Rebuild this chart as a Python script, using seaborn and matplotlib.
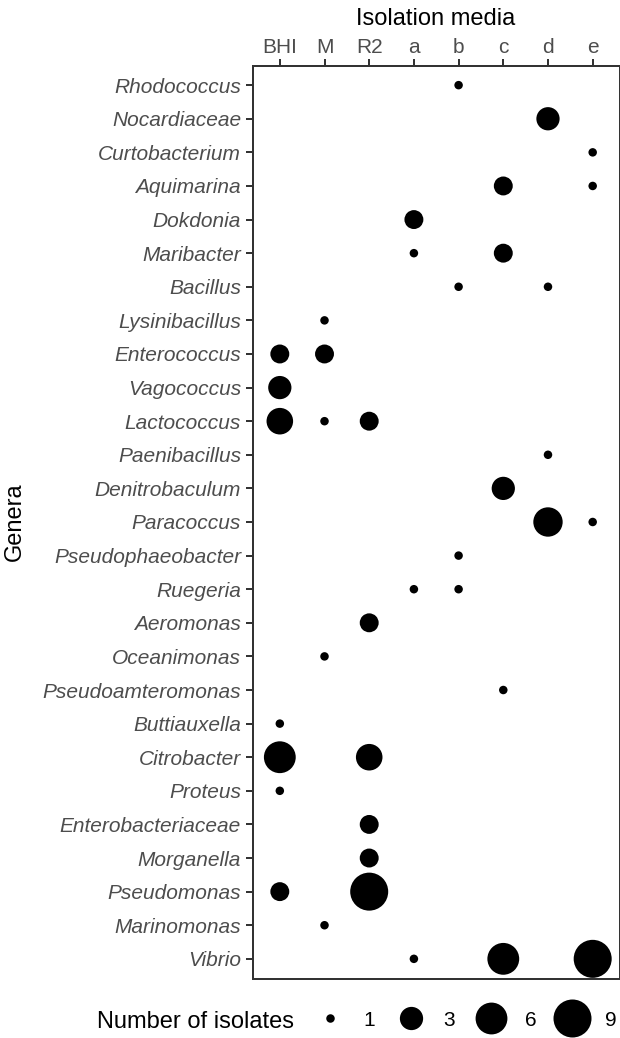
import matplotlib
matplotlib.use("Agg")
import matplotlib.pyplot as plt
import seaborn as sns
import pandas as pd
import numpy as np
from matplotlib.lines import Line2D

# ---------------- data ----------------
media = ["BHI", "M", "R2", "a", "b", "c", "d", "e"]
genera = ["Rhodococcus", "Nocardiaceae", "Curtobacterium", "Aquimarina", "Dokdonia",
          "Maribacter", "Bacillus", "Lysinibacillus", "Enterococcus", "Vagococcus",
          "Lactococcus", "Paenibacillus", "Denitrobaculum", "Paracoccus",
          "Pseudophaeobacter", "Ruegeria", "Aeromonas", "Oceanimonas",
          "Pseudoamteromonas", "Buttiauxella", "Citrobacter", "Proteus",
          "Enterobacteriaceae", "Morganella", "Pseudomonas", "Marinomonas", "Vibrio"]

obs_genus = ["Rhodococcus", "Nocardiaceae", "Curtobacterium", "Aquimarina", "Aquimarina",
             "Dokdonia", "Maribacter", "Maribacter", "Bacillus", "Bacillus",
             "Lysinibacillus", "Enterococcus", "Enterococcus", "Vagococcus",
             "Lactococcus", "Lactococcus", "Lactococcus", "Paenibacillus",
             "Denitrobaculum", "Paracoccus", "Paracoccus", "Pseudophaeobacter",
             "Ruegeria", "Ruegeria", "Aeromonas", "Oceanimonas", "Pseudoamteromonas",
             "Buttiauxella", "Citrobacter", "Citrobacter", "Proteus",
             "Enterobacteriaceae", "Morganella", "Pseudomonas", "Pseudomonas",
             "Marinomonas", "Vibrio", "Vibrio", "Vibrio"]
obs_medium = ["b", "d", "e", "c", "e",
              "a", "a", "c", "b", "d",
              "M", "BHI", "M", "BHI",
              "BHI", "M", "R2", "d",
              "c", "d", "e", "b",
              "a", "b", "R2", "M", "c",
              "BHI", "BHI", "R2", "BHI",
              "R2", "R2", "BHI", "R2",
              "M", "a", "c", "e"]
obs_count = [1, 3, 1, 2, 1,
             2, 1, 2, 1, 1,
             1, 2, 2, 3,
             4, 1, 2, 1,
             3, 5, 1, 1,
             1, 1, 2, 1, 1,
             1, 6, 4, 1,
             2, 2, 2, 9,
             1, 1, 6, 9]
legend_counts = [1, 3, 6, 9]

# ---------------- figure ----------------
W, H, DPI = 620, 1038, 100
sns.set_style("white")
plt.rcParams['font.family'] = ['Liberation Sans', 'DejaVu Sans']

df = pd.DataFrame({
    "genus": pd.Categorical(obs_genus, categories=genera),
    "medium": pd.Categorical(obs_medium, categories=media),
    "count": obs_count,
})

# ggplot-like area palette: diameter = dmin + (dmax-dmin)*sqrt(rescaled value)
vmin, vmax = min(obs_count), max(obs_count)
dmin_px, dmax_px = 8.5, 38.0
def diam_pt(v):
    d = dmin_px + (dmax_px - dmin_px) * np.sqrt((v - vmin) / (vmax - vmin))
    return d * 72.0 / DPI
size_map = {v: diam_pt(v) ** 2 for v in sorted(set(obs_count) | set(legend_counts))}

fig = plt.figure(figsize=(W / DPI, H / DPI), dpi=DPI)
ax = fig.add_axes([253 / W, 1 - 979 / H, (619.5 - 253) / W, (979 - 66) / H])

sns.scatterplot(data=df, x="medium", y="genus", size="count", sizes=size_map,
                color="black", linewidth=0, marker="o", legend=False, ax=ax)

ax.set_xlim(-0.6, len(media) - 0.4)
ax.set_ylim(len(genera) - 0.4, -0.57)
ax.set_xlabel("")
ax.set_ylabel("")

for s in ax.spines.values():
    s.set_visible(True)
    s.set_color("#333333")
    s.set_linewidth(1.44)

ax.tick_params(axis="x", top=True, bottom=False, labeltop=True, labelbottom=False,
               length=5, width=1.44, color="#333333", labelcolor="#4D4D4D",
               labelsize=15, pad=1.2, direction="out")
ax.tick_params(axis="y", left=True, length=5, width=1.44, color="#333333",
               labelcolor="#4D4D4D", labelsize=15, pad=3.6, direction="out")
for lbl in ax.get_yticklabels():
    lbl.set_fontstyle("italic")
ax.grid(False)

# titles
fig.text(436 / W, 1 - 25 / H, "Isolation media", ha="center", va="baseline",
         fontsize=17, color="black")
fig.text(15 / W, 1 - 522 / H, "Genera", ha="center", va="center", rotation=90,
         fontsize=17, color="black")

# legend
handles = [Line2D([], [], linestyle="none", marker="o", markersize=np.sqrt(size_map[v]),
                  markerfacecolor="black", markeredgewidth=0, color="black")
           for v in legend_counts]
fig.legend(handles, [str(v) for v in legend_counts], ncol=4, frameon=False,
           loc="center left", bbox_to_anchor=(309 / W, 1 - 1020 / H),
           borderpad=0, borderaxespad=0, handlelength=2.0, handletextpad=0.59,
           columnspacing=0.73, fontsize=15, labelcolor="black")
fig.text(97 / W, 1 - 1028 / H, "Number of isolates", ha="left", va="baseline",
         fontsize=17, color="black")

fig.savefig("out.png", dpi=DPI)
